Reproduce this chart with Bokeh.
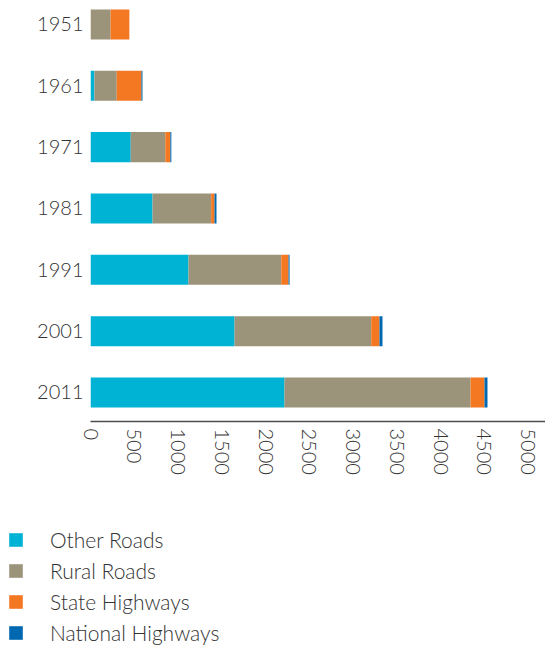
import math
from bokeh.plotting import figure
from bokeh.layouts import column
from bokeh.models import Range1d, FixedTicker, Legend, LegendItem
from bokeh.embed import file_html
from bokeh.resources import INLINE

years = ["1951", "1961", "1971", "1981", "1991", "2001", "2011"]
other_roads = [0, 45, 460, 709, 1120, 1646, 2217]
rural_roads = [229, 255, 395, 670, 1060, 1562, 2126]
state_highways = [215, 282, 57, 38, 83, 95, 160]
national_highways = [0, 12, 12, 23, 12, 34, 34]
x_ticks = [0, 500, 1000, 1500, 2000, 2500, 3000, 3500, 4000, 4500, 5000]

series_names = ["Other Roads", "Rural Roads", "State Highways", "National Highways"]
series_values = [other_roads, rural_roads, state_highways, national_highways]
colors = ["#00B2D3", "#9B937A", "#F47721", "#0068B1"]

FONT = "Lato Light"
TXT = "#333333"

n = len(years)
ypos = [n - 1 - i for i in range(n)]

p = figure(width=545, height=500, output_backend="svg", toolbar_location=None,
           x_range=Range1d(0, 5200), y_range=Range1d(-0.473, 6.391),
           min_border_left=90, min_border_right=0, min_border_top=0,
           min_border_bottom=79)
p.frame_align = False
p.outline_line_color = None
p.grid.grid_line_color = None
p.background_fill_color = "white"
p.border_fill_color = "white"

# legend panel (its frame shows only the key; bars there sit outside its range)
lp = figure(width=545, height=149, output_backend="svg", toolbar_location=None,
            x_range=Range1d(0, 1), y_range=Range1d(1000, 1001),
            x_axis_type=None, y_axis_type=None,
            min_border_left=7, min_border_right=0, min_border_top=27,
            min_border_bottom=0)
lp.frame_align = False
lp.outline_line_color = None
lp.grid.grid_line_color = None
lp.border_fill_color = "white"

items = []
left = [0] * n
for name, vals, col in zip(series_names, series_values, colors):
    right = [l + v for l, v in zip(left, vals)]
    p.hbar(y=ypos, left=left, right=right, height=0.49, fill_color=col,
           line_color=None)
    r = lp.hbar(y=ypos, left=left, right=right, height=0.49, fill_color=col,
                line_color=None)
    items.append(LegendItem(label=name, renderers=[r]))
    left = right

# y axis
p.yaxis.ticker = FixedTicker(ticks=ypos)
p.yaxis.major_label_overrides = {yp: y for yp, y in zip(ypos, years)}
p.yaxis.axis_line_color = None
p.yaxis.major_tick_line_color = None
p.yaxis.major_tick_out = 0
p.yaxis.major_tick_in = 0
p.yaxis.minor_tick_line_color = None
p.yaxis.major_label_text_font = FONT
p.yaxis.major_label_text_font_size = "20px"
p.yaxis.major_label_text_color = TXT
p.yaxis.major_label_standoff = 7

# x axis
p.xaxis.ticker = FixedTicker(ticks=x_ticks)
p.xaxis.axis_line_color = "#4d4d4d"
p.xaxis.axis_line_width = 1.5
p.xaxis.major_tick_line_color = None
p.xaxis.major_tick_out = 0
p.xaxis.major_tick_in = 0
p.xaxis.minor_tick_line_color = None
p.xaxis.major_label_orientation = -math.pi / 2
p.xaxis.major_label_text_font = FONT
p.xaxis.major_label_text_font_size = "20px"
p.xaxis.major_label_text_color = TXT
p.xaxis.major_label_standoff = 7

legend = Legend(items=items, location="top_left", orientation="vertical",
                glyph_width=17, glyph_height=17, label_standoff=26,
                label_text_font=FONT, label_text_font_size="21px",
                label_text_color=TXT, spacing=6, padding=0, margin=0,
                border_line_color=None, background_fill_alpha=0,
                label_height=17)
lp.add_layout(legend, "center")

layout = column(p, lp, spacing=0)
open("out.html", "w").write(file_html(layout, INLINE))
